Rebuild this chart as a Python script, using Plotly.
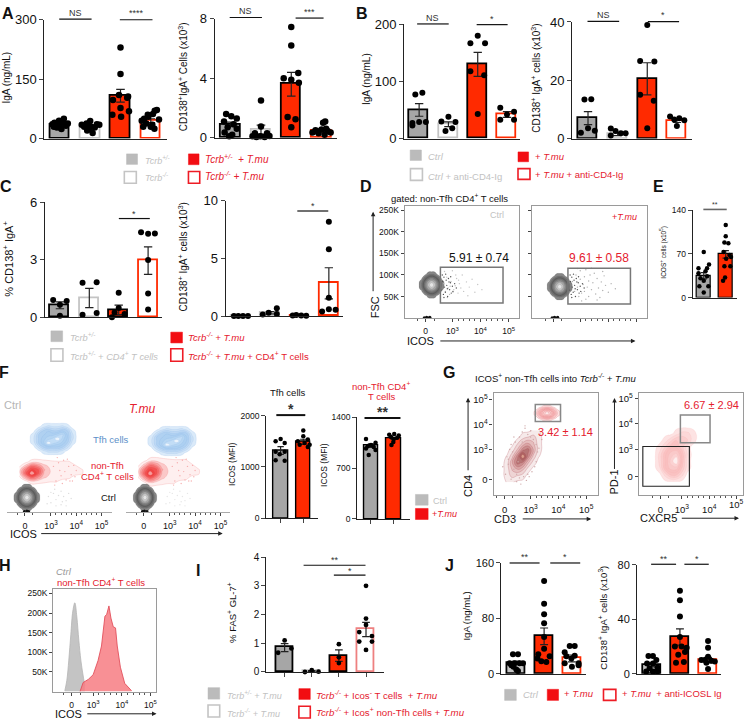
import plotly.graph_objects as go

W, H = 744, 727
FONT = "Liberation Sans"
GRAY = "#a6a6a6"
LGRAY = "#c4c4c4"
RED = "#ff2a00"
TRED = "#e5202e"
BLACK = "#000000"

# bar values, errors, dots (dots: offset from the bar centre, in bar spacings)
a1_vals = [35, 30, 108, 45]
a1_errs = [4, 4, 16, 5]
a1_dx = [[-.25, -.18, -.1, -.03, .05, .13, .2, .26, -.2, -.05, .1, .03],
         [-.28, -.2, -.12, -.05, 0, .08, .15, .22, .3, -.1, .03],
         [0, 0, -.05, .25, -.25, .22, 0, .28, -.27, .02],
         [-.3, -.22, -.15, -.08, 0, .07, .13, .2, .27, -.25, .12, .05, -.1]]
a1_dy = [[36, 40, 28, 45, 24, 50, 32, 38, 30, 35, 42, 27],
         [35, 30, 38, 25, 44, 14, 28, 36, 35, 20, 30],
         [230, 163, 110, 106, 97, 103, 77, 69, 60, 55],
         [45, 50, 38, 55, 30, 62, 70, 72, 48, 30, 25, 35, 60]]
a2_vals = [0.9, 0.55, 3.6, 0.5]
a2_errs = [.15, .3, .8, .1]
a2_dx = [[-.15, .02, .2, -.22, .1, -.1, .2, -.2, .05, -.05],
         [0, 0, -.28, -.15, -.02, .12, .28, -.2, .2],
         [0, 0, .23, -.25, 0, .25, -.12, .14, 0],
         [-.3, -.2, -.1, 0, .1, .2, .3, .05, .12, -.12, .15]]
a2_dy = [[1.6, 1.45, 1.3, 1.1, .9, .7, .6, .35, .2, .1],
         [2.5, .75, .1, .05, .1, .05, .12, .3, .3],
         [7.45, 6.2, 4.35, 4.0, 3.9, 3.7, 1.4, 1.25, .7],
         [.35, .5, .3, .55, .2, .45, .35, 1.0, 1.1, .4, .6]]
b1_vals = [50, 25, 130, 42]
b1_errs = [11, 4, 21, 5]
b1_dx = [[-.13, .11, -.23, 0, .23, -.23], [-.24, 0, .24, -.1, .13],
         [0, -.25, .25, -.25, .22, 0], [-.23, .24, 0, -.23, .24]]
b1_dy = [[77, 80, 23, 29, 29, 27], [30, 38, 29, 13, 18],
         [180, 167, 167, 118, 111, 43], [54, 47, 42, 33, 33]]
b2_vals = [7, 1.5, 20.5, 6]
b2_errs = [2.2, .5, 5.5, .5]
b2_dx = [[-.12, .11, -.24, 0, .23], [-.23, -.07, -.23, .11, .27],
         [0, -.24, .24, -.24, .22, 0], [-.23, 0, -.09, .08, .25]]
b2_dy = [[13.4, 13.5, 2, 3.5, 2.7], [3.4, 2.6, 1, 1.8, 1.8],
         [39, 26.6, 26.4, 15, 13, 3.5], [7.6, 4.3, 6.5, 7, 6.3]]
c1_vals = [.62, 1.0, .38, 2.95]
c1_errs = [.18, .5, .25, .72]
c1_dx = [[-.23, .23, 0, 0], [-.23, .25, -.23, .25],
         [0, 0, -.23, .2, -.14], [-.24, 0, .23, 0, 0, 0]]
c1_dy = [[.9, .85, .65, .08], [1.8, 1.82, .13, .22],
         [1.28, .48, 0, .17, .25], [4.43, 4.35, 4.36, 2.98, 1.23, .4]]
c2_vals = [.03, .3, .05, 2.85]
c2_errs = [0, .1, .02, 1.35]
c2_dx = [[-.23, -.08, .08, .25], [-.25, -.05, .23, .23],
         [-.23, -.11, .06, .23], [0, 0, 0, -.23, 0, .23]]
c2_dy = [[.02, .02, .02, .02], [.14, .3, .68, .2],
         [.05, .1, .05, .04], [8.2, 5.8, 1.6, .4, .6, .55]]
e_vals = [35, 69]
e_errs = [5, 6]
e_dx = [[0, .24, -.24, .15, -.24, .08, -.2, .21, 0, -.15, .15, 0],
        [0, 0, -.06, .12, -.1, .17, .02, -.06, .24, .21, -.03, -.12]]
e_dy = [[73, 53, 47, 47, 39, 42, 18, 18, 8, 31, 34, 27],
        [116, 98, 88, 87, 73, 68, 62, 50, 65, 50, 32, 27]]
f1_vals = [1320, 1490]
f1_errs = [75, 50]
f1_dx = [[-.22, 0, .18, -.22, .18, -.04, -.22, .18],
         [0, 0, -.24, .2, -.16, .06, .28, .2]]
f1_dy = [[1500, 1545, 1465, 1295, 1295, 1250, 1130, 1120],
         [1713, 1600, 1500, 1535, 1435, 1465, 1435, 1390]]
f2_vals = [1010, 1110]
f2_errs = [25, 15]
f2_dx = [[-.22, .2, 0, -.15, .12, -.22, .2, -.1],
         [.02, -.2, .22, -.12, .15, 0, -.02, -.1]]
f2_dy = [[1100, 1050, 1020, 1000, 990, 970, 950, 880],
         [1170, 1160, 1150, 1130, 1120, 1100, 1060, 1020]]
i_vals = [.85, .03, .57, 1.48]
i_errs = [.14, .02, .2, .25]
i_dx = [[0, .25, -.24], [-.25, 0, .25], [0, 0, 0],
        [0, 0, 0, -.25, .22, -.25, 0, .22]]
i_dy = [[1.1, .82, .67], [0, .06, .01], [.97, .51, .31],
        [3.0, 1.86, 1.64, 1.39, 1.25, 1.06, .77, 1.06]]
j1_vals = [16, 54, 22]
j1_errs = [2, 12, 5]
j1_dx = [[-.12, .06, -.24, -.06, .12, .24, -.18, 0, .06, -.1],
         [0, 0, 0, 0, 0, 0, -.21, -.24, .2, -.1, .08],
         [-.08, .1, -.26, .1, -.2, -.02, -.26, .24, 0, .24]]
j1_dy = [[28, 28, 15, 15, 15, 15, 12, 6, 4, 10],
         [134, 101, 86, 73, 53, 36, 28, 22, 25, 18, 17],
         [40, 40, 31, 26, 25, 22, 15, 15, 10, 12]]
j2_vals = [6.5, 27, 10]
j2_errs = [1.5, 6, 2]
j2_dx = [[-.12, .04, .16, -.17, .04, .2, -.08, .04, -.2, .2],
         [0, 0, 0, 0, -.18, .24, .06, -.06, .18, -.14, .14],
         [0, 0, -.24, -.12, 0, .12, .24, -.06, 0]]
j2_dy = [[13, 13, 10, 7.5, 7.5, 4.5, 4, 1.5, 1.5, 1.5],
         [61, 54, 42, 27, 20, 19, 20, 14, 16, 8, 8.5],
         [24, 19, 10, 10, 12.5, 9.5, 9, 8, 3.5]]

# H histograms: ICOS in decades, counts in K
h_gray_x = [2.01, 2.08, 2.15, 2.22, 2.29, 2.36, 2.43, 2.50, 2.57, 2.64, 2.71]
h_gray_y = [2, 28, 80, 145, 205, 226, 190, 130, 80, 45, 15]
h_red_x = [2.54, 2.65, 2.83, 3.0, 3.17, 3.29, 3.41, 3.47, 3.55, 3.62, 3.70, 3.78, 3.84, 3.95, 4.10, 4.34]
h_red_y = [0, 23, 31, 43, 79, 116, 192, 196, 218, 187, 165, 162, 116, 62, 21, 2]

# flow plots: hand-read density grids and scattered events
ring_z = [[0, 0, 0, 0, 0, 0, 0, 0, 0],
          [0, 0, 0, 1, 1.5, 1, 0, 0, 0],
          [0, 0, 2, 4, 5, 4, 2, 0, 0],
          [0, 1, 4, 7, 8, 7, 4, 1, 0],
          [0, 1.5, 5, 8, 10, 8, 5, 1.5, 0],
          [0, 1, 4, 7, 8, 7, 4, 1, 0],
          [0, 0, 2, 4, 5, 4, 2, 0, 0],
          [0, 0, 0, 1, 1.5, 1, 0, 0, 0],
          [0, 0, 0, 0, 0, 0, 0, 0, 0]]
blue_z = [[0, 0, 0, 0, 0, 0, 0, 0, 0, 0, 0],
          [0, 0, 0, 1, 2, 1.5, 1.5, 2, 1, 0, 0],
          [0, 0, 2, 4, 5, 4, 4, 5, 4, 1, 0],
          [0, 1, 4, 5, 6, 6, 7, 8, 5, 2, 0],
          [0, 1.5, 4, 6, 7, 8, 10, 7, 5, 2, 0],
          [0, 1, 4, 6, 10, 8, 7, 6, 4, 1, 0],
          [0, 0, 2, 4, 5, 5, 5, 4, 2, 0, 0],
          [0, 0, 0, 1, 2, 2, 2, 1, 0, 0, 0],
          [0, 0, 0, 0, 0, 0, 0, 0, 0, 0, 0]]
tail_z = [[0, 0, 0, 0, 0, 0, 0, 0, 0, 0, 0, 0],
          [0, 0, 1, 1.2, .8, .6, .5, .5, .5, 0, 0, 0],
          [0, 2, 5, 4, 2, 1.2, 1, .9, .7, .5, 0, 0],
          [1, 5, 8, 7, 3, 1.5, 1.2, 1, 1, .7, .5, 0],
          [1, 6, 10, 7, 2.5, 1.5, 1, 1, .9, .7, .5, 0],
          [0, 3, 6, 4, 1.8, 1.2, 1, .8, .6, 0, 0, 0],
          [0, 0, 1.5, 1, .7, .5, .5, 0, 0, 0, 0, 0],
          [0, 0, 0, 0, 0, 0, 0, 0, 0, 0, 0, 0]]
tilt_z = [[0, 0, 0, 0, 0, 0, .5, .5, 0],
          [0, 0, 0, 0, 1, 1.5, 2, 1, 0],
          [0, 0, 0, 1.5, 3, 4, 3, 1, 0],
          [0, 0, 1, 3, 6, 7, 4, 1, 0],
          [0, .5, 2.5, 6, 10, 6, 2.5, .5, 0],
          [0, 1, 4, 7, 6, 3, 1, 0, 0],
          [0, 1, 3, 4, 3, 1, 0, 0, 0],
          [0, 1, 2, 1.5, 1, 0, 0, 0, 0],
          [0, .5, .5, 0, 0, 0, 0, 0, 0]]
lobe_z = [[0, 0, 0, 0, 0, 0, 0, 0, 0],
          [0, 0, 0, 0, 1, 2, 2, 1, 0],
          [0, 0, 1, 2.5, 4, 4, 3, 1, 0],
          [0, 1, 3, 5, 5, 3.5, 1, 0, 0],
          [0, 2, 5, 7, 8, 5, 1.5, 0, 0],
          [0, 2, 5, 8, 10, 5, 1, 0, 0],
          [0, 1.5, 5, 7, 7, 4, 1, 0, 0],
          [0, 0, 2, 4, 4, 2, 0, 0, 0],
          [0, 0, 0, 0, 0, 0, 0, 0, 0]]
d1_ev_x = [2.7, 2.75, 2.8, 2.85, 2.9, 2.95, 3.0, 3.05, 3.1, 3.15, 3.2, 3.25, 3.3, 3.35, 3.4, 3.5, 3.55, 3.6, 3.7, 3.8, 3.9, 4.05, 2.72, 2.82, 2.92, 3.02, 3.12, 3.22]
d1_ev_y = [80, 62, 95, 70, 55, 85, 110, 66, 75, 92, 58, 80, 70, 100, 62, 84, 52, 72, 90, 60, 78, 66, 108, 48, 74, 60, 100, 88]
d2_ev_x = [2.72, 2.8, 2.85, 2.9, 2.95, 3.0, 3.0, 3.05, 3.1, 3.15, 3.15, 3.2, 3.25, 3.3, 3.3, 3.35, 3.4, 3.45, 3.5, 3.55, 3.6, 3.65, 3.7, 3.75, 3.8, 3.85, 3.9, 4.0, 4.1, 4.25, 2.9, 3.05, 3.2, 3.4, 3.6, 3.8]
d2_ev_y = [85, 62, 100, 72, 50, 90, 110, 58, 78, 96, 62, 112, 72, 50, 86, 100, 66, 82, 104, 56, 92, 70, 48, 84, 64, 98, 76, 60, 80, 68, 115, 40, 44, 116, 42, 108]
dense_x = [2.62, 2.65, 2.68, 2.7, 2.72, 2.75, 2.78, 2.8, 2.83, 2.86, 2.9, 2.93, 2.96, 3.0, 2.64, 2.7, 2.76, 2.82, 2.88, 2.94, 3.02, 3.08, 3.14]
dense_y = [65, 85, 55, 95, 72, 60, 88, 76, 50, 92, 66, 82, 58, 74, 100, 48, 102, 68, 84, 96, 62, 80, 70]
g1_ev_x = [2.0, 2.1, 2.15, 2.2, 2.25, 2.3, 2.35, 2.4, 2.45, 2.5, 2.55, 2.6, 2.65, 2.7, 2.75, 2.8, 2.85, 2.9, 2.95, 3.0, 3.05, 3.1, 3.15, 3.2, 3.25, 3.3, 2.3, 2.5, 2.7, 2.9, 3.1, 2.2, 2.6, 3.0, 2.4, 2.8, 3.2, 3.4]
g1_ev_y = [2.3, 2.0, 2.7, 2.4, 3.0, 1.8, 2.9, 2.2, 3.3, 1.7, 2.5, 3.5, 1.6, 3.7, 1.9, 3.85, 1.75, 3.6, 1.9, 3.75, 2.1, 3.4, 2.3, 3.2, 2.9, 3.05, 3.2, 2.0, 3.3, 2.0, 3.0, 2.6, 1.85, 3.5, 3.5, 3.95, 2.5, 3.4]
f_red_x = [3.1, 3.2, 3.3, 3.4, 3.5, 3.6, 3.7, 3.8, 3.9, 4.0, 3.25, 3.45, 3.65, 3.85, 3.15, 3.35, 3.55, 3.75, 3.95]
f_red_y = [88, 60, 95, 70, 100, 62, 88, 72, 90, 80, 105, 55, 102, 60, 52, 80, 78, 60, 68]
f_gray_x = [2.9, 3.0, 3.1, 3.2, 3.3, 3.4, 3.5, 3.6, 3.7, 3.8, 3.0, 3.2, 3.4, 3.6, 2.85, 3.15, 3.45]
f_gray_y = [30, 18, 36, 24, 32, 14, 30, 22, 36, 26, 38, 12, 40, 12, 16, 44, 20]

layout = dict(width=W, height=H, margin=dict(l=0, r=0, t=0, b=0), showlegend=False,
              plot_bgcolor="rgba(0,0,0,0)", paper_bgcolor="white", bargap=0,
              font=dict(family=FONT, color="#111111"))
fig = go.Figure()
shapes, notes = [], []
axis_no = [0]


def px(x):
    return x / W


def py(y):
    return 1 - y / H


def new_axes():
    axis_no[0] += 1
    n = "" if axis_no[0] == 1 else str(axis_no[0])
    return n


def text(x, y, s, size=10, color="#111111", anchor="left", angle=0):
    notes.append(dict(x=px(x), y=py(y), xref="paper", yref="paper", text=s, showarrow=False,
                      xanchor=anchor, yanchor="middle", textangle=angle,
                      font=dict(size=size, color=color, family=FONT)))


def arrow(x0, y0, x1, y1):
    notes.append(dict(x=px(x1), y=py(y1), xref="paper", yref="paper", ax=x0 - x1, ay=y0 - y1,
                      text="", showarrow=True, arrowhead=2, arrowsize=.9, arrowwidth=1, arrowcolor="#222222"))


def line(x0, y0, x1, y1, color="#111111", width=1.2):
    shapes.append(dict(type="line", xref="paper", yref="paper", x0=px(x0), x1=px(x1), y0=py(y0), y1=py(y1),
                       line=dict(color=color, width=width)))


def rect(x0, y0, x1, y1, color, fill="rgba(0,0,0,0)", width=1.5):
    shapes.append(dict(type="rect", xref="paper", yref="paper", x0=px(x0), x1=px(x1), y0=py(y0), y1=py(y1),
                       line=dict(color=color, width=width), fillcolor=fill))


def bracket(x0, x1, y, label, ty, size=9, width=1.2, color="#111111"):
    line(x0, y, x1, y, color, width)
    text((x0 + x1) / 2, ty, label, size, "#333333", "center")


def bar_panel(x0, x1, ytop, ybot, ymax, yticks, centers, bar_w, vals, errs, dx, dy, fills, edges,
              tick_size=13, dot=6.5, ticks=False, lw=1.8, ylabels=None):
    n = new_axes()
    step = (centers[-1] - centers[0]) / (len(centers) - 1)
    lo = (x0 - centers[0]) / step
    hi = (x1 - centers[0]) / step
    xs = list(range(len(vals)))
    fig.add_trace(go.Bar(x=xs, y=vals, width=bar_w / step, xaxis="x" + n, yaxis="y" + n,
                         marker=dict(color=fills, line=dict(color=edges, width=lw)),
                         error_y=dict(type="data", array=errs, color="#222222", thickness=1.2, width=bar_w * .22),
                         cliponaxis=False, hoverinfo="skip"))
    px_x, px_y = [], []
    for i in xs:
        px_x += [i + d for d in dx[i]]
        px_y += dy[i]
    fig.add_trace(go.Scatter(x=px_x, y=px_y, mode="markers", xaxis="x" + n, yaxis="y" + n,
                             marker=dict(color="black", size=dot), cliponaxis=False, hoverinfo="skip"))
    layout["xaxis" + n] = dict(domain=[px(x0), px(x1)], range=[lo, hi], anchor="y" + n, showgrid=False, zeroline=False,
                               showline=True, linecolor="#222222", linewidth=1.2, tickvals=xs if ticks else [],
                               ticks="outside" if ticks else "", ticklen=4, showticklabels=False)
    layout["yaxis" + n] = dict(domain=[py(ybot), py(ytop)], range=[0, ymax], anchor="x" + n, showgrid=False, zeroline=False,
                               showline=True, linecolor="#222222", linewidth=1.2, tickvals=yticks,
                               ticktext=ylabels, ticks="outside", ticklen=4, tickwidth=1.2,
                               tickfont=dict(size=tick_size, color="#111111", family=FONT))


def minor_decades(zero):
    out = [zero - .3, zero + .3]
    for d in (3, 4):
        out += [d + k / 5 for k in range(1, 5)]
    return out


def flow_panel(box, p3, p5, x0_px, ylo, yhi, ytick_vals, ytick_text, xlabels=True, ylabels=True, color="#9a9a9a",
               size=8.5):
    x0, x1, ytop, ybot = box
    n = new_axes()
    dec = (p5 - p3) / 2
    zero = 3 + (x0_px - p3) / dec
    layout["xaxis" + n] = dict(domain=[px(x0), px(x1)], range=[3 + (x0 - p3) / dec, 3 + (x1 - p3) / dec], anchor="y" + n,
                               showgrid=False, zeroline=False, showline=True, mirror=True, linecolor=color, linewidth=1.3,
                               tickvals=[zero, 3, 4, 5], ticktext=["0", "10<sup>3</sup>", "10<sup>4</sup>", "10<sup>5</sup>"],
                               ticks="outside", ticklen=3, showticklabels=xlabels, ticklabelstandoff=2,
                               minor=dict(tickvals=minor_decades(zero), ticks="outside", ticklen=2, tickcolor="#555555"),
                               tickfont=dict(size=size, family=FONT, color="#111111"))
    layout["yaxis" + n] = dict(domain=[py(ybot), py(ytop)], range=[ylo, yhi], anchor="x" + n, showgrid=False, zeroline=False,
                               showline=True, mirror=True, linecolor=color, linewidth=1.3, tickvals=ytick_vals, ticktext=ytick_text,
                               ticks="outside", ticklen=3, showticklabels=ylabels,
                               tickfont=dict(size=size, family=FONT, color="#111111"))
    return n


def blob(n, cx, cy, rx, ry, z, stops, lines="rgba(90,90,90,.25)"):
    ny, nx = len(z), len(z[0])
    xs = [cx + rx * (2 * i / (nx - 1) - 1) for i in range(nx)]
    ys = [cy + ry * (2 * i / (ny - 1) - 1) for i in range(ny)]
    fig.add_trace(go.Contour(x=xs, y=ys, z=z[::-1], xaxis="x" + n, yaxis="y" + n, showscale=False, hoverinfo="skip",
                             zmin=0, zmax=10, autocontour=False, contours=dict(start=.4, end=10, size=1.2, coloring="fill"),
                             colorscale=stops, line=dict(width=.5, color=lines, smoothing=1.3)))


def events(n, xs, ys, color, size=1.4):
    fig.add_trace(go.Scatter(x=xs, y=ys, mode="markers", xaxis="x" + n, yaxis="y" + n, hoverinfo="skip",
                             marker=dict(color=color, size=size)))


GRAY_CS = [[0, "rgba(255,255,255,0)"], [.04, "#8a8a8a"], [.3, "#5c5c5c"], [.6, "#8f8f8f"], [.85, "#cfcfcf"], [1, "#f4f4f4"]]
BLUE_CS = [[0, "rgba(255,255,255,0)"], [.04, "#dcebf9"], [.5, "#a9cdf0"], [.8, "#bedbf5"], [1, "#ffffff"]]
RED_CS = [[0, "rgba(255,255,255,0)"], [.05, "#fef3f3"], [.15, "#fcd2d2"], [.4, "#f78f8f"], [.8, "#ee3a3a"], [1, "#fbc8c8"]]
TILT_CS = [[0, "rgba(255,255,255,0)"], [.05, "#f7ecec"], [.4, "#dfaeae"], [.8, "#a85f5f"], [1, "#f1b9a0"]]
PALE_CS = [[0, "rgba(255,255,255,0)"], [.05, "#fde4e4"], [.5, "#f9bcbc"], [.85, "#fbd5d5"], [1, "#ffffff"]]

ed4 = [BLACK, LGRAY, BLACK, RED]
fill4 = [GRAY, "white", RED, "white"]

# A
bar_panel(44.5, 167, 13, 134.3, 300, [0, 150, 300], [60, 90, 120, 151], 19.5, a1_vals, a1_errs, a1_dx, a1_dy, fill4, ed4)
bar_panel(215, 337, 12, 133.5, 8, [0, 4, 8], [231, 260.7, 291, 322], 19.5, a2_vals, a2_errs, a2_dx, a2_dy, fill4, ed4)
# B
bar_panel(404.7, 521, 17.7, 134.3, 200, [0, 100, 200], [419.7, 449, 478.3, 507.7], 19, b1_vals, b1_errs, b1_dx, b1_dy, fill4, ed4, dot=6)
bar_panel(573, 692.7, 15.3, 134.3, 40, [0, 20, 40], [588.8, 618, 648.3, 677.8], 19, b2_vals, b2_errs, b2_dx, b2_dy, fill4, ed4, dot=6)
# C
bar_panel(45, 162.7, 199.3, 316.7, 6, [0, 3, 6], [60, 89.3, 119, 148.3], 19, c1_vals, c1_errs, c1_dx, c1_dy, fill4, ed4, dot=6)
bar_panel(226, 343, 198, 315.7, 10, [0, 5, 10], [241, 270.7, 300, 329.3], 19, c2_vals, c2_errs, c2_dx, c2_dy, ["white", "white", "white", "white"], [LGRAY, LGRAY, RED, RED], dot=6)
# E
bar_panel(693.7, 738, 207.3, 296.7, 140, [0, 70, 140], [704.7, 726.7], 14.5, e_vals, e_errs, e_dx, e_dy, [GRAY, RED], [BLACK, BLACK], tick_size=8.5, dot=4.5, lw=1.2)
# F bars
bar_panel(266.7, 318, 417.3, 522, 2000, [0, 1000, 2000], [281, 303.7], 14.5, f1_vals, f1_errs, f1_dx, f1_dy, [GRAY, RED], [BLACK, BLACK], tick_size=8.5, dot=4.5, ticks=True, lw=1.4)
bar_panel(357.7, 411, 419, 522.7, 1400, [0, 700, 1400], [371.5, 394.3], 14.5, f2_vals, f2_errs, f2_dx, f2_dy, [GRAY, RED], [BLACK, BLACK], tick_size=8.5, dot=4.5, ticks=True, lw=1.4)
# I
bar_panel(266.7, 384.7, 561.7, 679, 4, [0, 1, 2, 3, 4], [285, 312.3, 339.3, 366.5], 17.5, i_vals, i_errs, i_dx, i_dy, [GRAY, "white", RED, "white"], [BLACK, LGRAY, BLACK, "#ee8080"], tick_size=10, dot=4.8, ticks=True)
# J
bar_panel(502, 587, 567.7, 680.7, 160, [0, 80, 160], [517, 544.7, 572.7], 18, j1_vals, j1_errs, j1_dx, j1_dy, [LGRAY, RED, "white"], [BLACK, BLACK, RED], tick_size=11, dot=6)
bar_panel(638, 722, 569.7, 680.7, 80, [0, 40, 80], [652.7, 680.7, 709], 18, j2_vals, j2_errs, j2_dx, j2_dy, [LGRAY, RED, "white"], [BLACK, BLACK, RED], tick_size=11, dot=6)

# D flow
fsc_vals = [50, 100, 150, 200, 250]
fsc_text = ["50K", "100K", "150K", "200K", "250K"]
n = flow_panel((405.3, 519.7, 202.7, 317.7), 453, 509.3, 426.3, 0, 261, fsc_vals, fsc_text)
events(n, d1_ev_x, d1_ev_y, "#c4c4c4")
events(n, dense_x, dense_y, "#555555")
blob(n, 2.26, 77, .48, 33, ring_z, GRAY_CS)
events(n, [2.0, 2.08, 2.13, 2.2], [1, 2, 1, 2], "#111111", 3)
n = flow_panel((533, 647.7, 202.7, 317.7), 581, 637.3, 554.3, 0, 261, fsc_vals, fsc_text, False, False)
events(n, d2_ev_x, d2_ev_y, "#b0b0b0")
events(n, dense_x, dense_y, "#555555")
blob(n, 2.27, 73, .48, 33, ring_z, GRAY_CS)
events(n, [2.0, 2.08, 2.13, 2.2], [1, 2, 1, 2], "#111111", 3)

# F flow
n = flow_panel((7, 112, 378, 515.7), 51, 101.7, 25, 0, 260, [], [], color="rgba(0,0,0,0)", size=9)
layout["yaxis" + n]["visible"] = False
layout["xaxis" + n].update(showline=True, mirror=False, linecolor="#aaaaaa", linewidth=.8)
events(n, f_red_x, f_red_y, "#f6b0b0")
events(n, f_gray_x, f_gray_y, "#dddddd")
blob(n, 3.08, 141, .95, 32, blue_z, BLUE_CS, "rgba(120,170,230,.3)")
blob(n, 3.1, 78, 1.35, 26, tail_z, RED_CS, "rgba(240,90,90,.35)")
blob(n, 2.05, 28, .55, 28, ring_z, GRAY_CS)
events(n, [1.95, 2.05, 2.12], [1, 2, 1], "#111111", 3)
n = flow_panel((126, 230, 378, 515.7), 170, 220.7, 144, 0, 260, [], [], color="rgba(0,0,0,0)", size=9)
layout["yaxis" + n]["visible"] = False
layout["xaxis" + n].update(showline=True, mirror=False, linecolor="#aaaaaa", linewidth=.8)
events(n, f_red_x, f_red_y, "#f6b0b0")
events(n, f_gray_x, f_gray_y, "#e6e6e6")
blob(n, 3.08, 137, 1.0, 30, blue_z, BLUE_CS, "rgba(120,170,230,.3)")
blob(n, 3.05, 78, 1.3, 30, tail_z, RED_CS, "rgba(240,90,90,.35)")
blob(n, 2.02, 28, .5, 28, ring_z, GRAY_CS)
events(n, [1.92, 2.0, 2.1], [1, 2, 1], "#111111", 3)

# G flow
dec_text = ["0", "10<sup>3</sup>", "10<sup>4</sup>", "10<sup>5</sup>"]
n = flow_panel((494.3, 598.7, 394, 498.3), 531.3, 587, 505.3, 1.16, 5.28, [1.79, 3, 4, 5], dec_text, size=9.5)
events(n, g1_ev_x, g1_ev_y, "#cfa9a9")
blob(n, 2.72, 2.72, .75, 1.05, tilt_z, TILT_CS, "rgba(170,60,70,.45)")
blob(n, 3.59, 4.46, .5, .34, ring_z, PALE_CS, "rgba(220,90,100,.5)")
n = flow_panel((639.7, 744, 394, 498.3), 682.7, 737.7, 661.3, 1.19, 5.23, [1.93, 3, 4, 5], dec_text, size=9.5)
layout["xaxis" + n]["ticktext"] = ["0", "10<sup>3</sup>", "10<sup>4</sup>", ""]
text(737, 507, "10<sup>5</sup>", 9.5, anchor="center")
blob(n, 2.8, 2.8, .8, 1.1, lobe_z, PALE_CS, "rgba(245,170,170,.3)")

# H histogram
n = flow_panel((53.3, 156.7, 594.3, 699), 93.3, 150.7, 71.7, 0, 261, fsc_vals, fsc_text)
fig.add_trace(go.Scatter(x=h_gray_x, y=h_gray_y, fill="tozeroy", mode="lines", xaxis="x" + n, yaxis="y" + n, hoverinfo="skip",
                         line=dict(color="#b5b5b5", width=.8, shape="spline"), fillcolor="rgba(190,190,190,.9)"))
fig.add_trace(go.Scatter(x=h_red_x, y=h_red_y, fill="tozeroy", mode="lines", xaxis="x" + n, yaxis="y" + n, hoverinfo="skip",
                         line=dict(color="#e2505c", width=.9), fillcolor="rgba(247,125,130,.85)"))

# panel letters
for lx, ly, s in [(8, 7, "A"), (362, 7, "B"), (6, 183, "C"), (366, 183, "D"), (659, 183, "E"), (4, 373, "F"),
                  (450, 373, "G"), (5, 570, "H"), (198, 575, "I"), (450, 570, "J")]:
    text(lx, ly, "<b>%s</b>" % s, 16, "#111111", "center")

# significance
bracket(59.3, 91.7, 12.3, "NS", 6)
bracket(120, 152.7, 13, "****", 6)
bracket(230, 262.3, 10.7, "NS", 4.5)
bracket(296, 324, 11.3, "***", 5)
bracket(417.7, 449.3, 17.3, "NS", 11)
bracket(477.3, 508.3, 18, "*", 12)
bracket(588.3, 620, 14.7, "NS", 8)
bracket(648.7, 680, 15, "*", 8)
bracket(119, 150, 216, "*", 211)
bracket(297.7, 328.7, 208.3, "*", 203)
bracket(704.3, 727.7, 206.7, "**", 202, 7, 1.6, "#666666")
bracket(276.7, 305.7, 416.7, "<b>*</b>", 410, 14, 2)
bracket(365, 401, 419.7, "<b>**</b>", 414, 14, 2)
bracket(304, 366, 570, "**", 565)
bracket(334.3, 366, 580, "*", 576)
bracket(510.3, 540.3, 567.7, "**", 562)
bracket(551, 581, 567.7, "*", 562)
bracket(652, 677, 569, "**", 564)
bracket(685.3, 709.7, 569, "*", 564)

# y titles
cd138 = "CD138<sup>+</sup> IgA<sup>+</sup> cells (x10<sup>3</sup>)"
text(7, 72, "IgA (ng/mL)", 10, angle=-90, anchor="center")
text(183, 71, "CD138<sup>+</sup>IgA<sup>+</sup> Cells (x10<sup>3</sup>)", 10, angle=-90, anchor="center")
text(367, 74, "IgA (ng/mL)", 10, angle=-90, anchor="center")
text(537, 73, cd138, 10, angle=-90, anchor="center")
text(8, 257, "% CD138<sup>+</sup> IgA<sup>+</sup>", 11, angle=-90, anchor="center")
text(183, 255, cd138, 10, angle=-90, anchor="center")
text(664.7, 250, "ICOS<sup>+</sup> cells (x10<sup>5</sup>)", 6.5, angle=-90, anchor="center")
text(233, 467, "ICOS (MFI)", 8.5, angle=-90, anchor="center")
text(325, 468, "ICOS (MFI)", 8.5, angle=-90, anchor="center")
text(233, 618, "% FAS<sup>+</sup> GL-7<sup>+</sup>", 9.5, angle=-90, anchor="center")
text(467, 622, "IgA (ng/mL)", 9.5, angle=-90, anchor="center")
text(604.3, 623, cd138, 9.5, angle=-90, anchor="center")


# legends
def swatch(x0, y0, x1, y1, kind):
    if kind == "gray":
        rect(x0, y0, x1, y1, "#bbbbbb", "#bbbbbb", .5)
    elif kind == "white":
        rect(x0, y0, x1, y1, LGRAY, "white", 1.6)
    elif kind == "red":
        rect(x0, y0, x1, y1, "#f20d12", "#f20d12", .5)
    else:
        rect(x0, y0, x1, y1, "#ee1c25", "white", 1.6)


LG = "#c2c2c2"
swatch(126.7, 150, 137.7, 160.7, "gray")
swatch(124.5, 168, 136.5, 180, "white")
swatch(188.7, 150, 199.3, 161, "red")
swatch(188.7, 168, 200, 180, "outline")
text(143, 156, "<i>Tcrb<sup>+/-</sup></i>", 9, LG)
text(143, 174, "<i>Tcrb<sup>-/-</sup></i>", 9, LG)
text(203.7, 155, "<i>Tcrb<sup>+/-</sup>\u00a0\u00a0+ T.mu</i>", 10, TRED)
text(203.7, 173, "<i>Tcrb<sup>-/-</sup>\u00a0+ T.mu</i>", 10, TRED)

swatch(410.7, 146, 422, 156.7, "gray")
swatch(411, 165, 423, 177, "white")
swatch(518.7, 148, 529.3, 158, "red")
swatch(518.7, 165, 530.7, 176, "outline")
text(427, 153, "<i>Ctrl</i>", 9.5, LG)
text(427, 172.7, "<i>Ctrl</i> + anti-CD4-Ig", 9.5, LG)
text(533.7, 153, "+ <i>T.mu</i>", 9.5, TRED)
text(533.7, 171, "+ <i>T.mu</i> + anti-CD4-Ig", 9.5, TRED)

swatch(51, 330.7, 62.7, 341.7, "gray")
swatch(51, 349, 63, 361.7, "white")
swatch(171, 332, 182.7, 343, "red")
swatch(171, 349, 183, 361.7, "outline")
text(68, 337, "<i>Tcrb<sup>+/-</sup></i>", 9.3, LG)
text(68, 356, "<i>Tcrb<sup>+/-</sup> + CD4<sup>+</sup> T cells</i>", 9.3, LG)
text(186.7, 337, "<i>Tcrb<sup>-/-</sup> + T.mu</i>", 9.6, TRED)
text(186.7, 356, "<i>Tcrb<sup>-/-</sup> + T.mu</i> + CD4<sup>+</sup> T cells", 9.6, TRED)

swatch(416, 497.7, 428.7, 508.7, "gray")
swatch(416, 512, 428.7, 523.3, "red")
text(432, 504, "Ctrl", 9, LG)
text(431, 518, "+<i>T.mu</i>", 9, TRED)

swatch(208.3, 695, 220, 706.7, "gray")
swatch(208.3, 712.7, 220, 725, "white")
swatch(299.3, 696, 310.7, 707, "red")
swatch(299.3, 714, 310.7, 726, "outline")
text(225, 702, "<i>Tcrb<sup>+/-</sup> + T.mu</i>", 9, LG)
text(225, 721, "<i>Tcrb<sup>-/-</sup> + T.mu</i>", 9, LG)
text(314, 703, "<i>Tcrb<sup>-/-</sup></i> + Icos<sup>-</sup> T cells\u00a0\u00a0+ <i>T.mu</i>", 9.7, TRED)
text(314, 720, "<i>Tcrb<sup>-/-</sup></i> + Icos<sup>+</sup> non-Tfh cells + <i>T.mu</i>", 9.7, TRED)

swatch(505.3, 696.7, 517, 708, "gray")
swatch(548, 696.7, 559.3, 708, "red")
swatch(604.3, 696.7, 616.7, 708, "outline")
text(522, 702, "<i>Ctrl</i>", 9.5, LG)
text(562.7, 701, "+ <i>T.mu</i>", 9.5, TRED)
text(621.3, 701, "+ <i>T.mu</i>\u00a0\u00a0+ anti-ICOSL Ig", 9.5, TRED)

# D text and gates
text(389.3, 195, "gated: non-Tfh CD4<sup>+</sup> T cells", 9.5)
text(498, 212.7, "Ctrl", 9, LG, "center")
text(625, 214.7, "+<i>T.mu</i>", 9, TRED, "center")
text(479.7, 256, "5.91 ± 0.74", 12, anchor="center")
text(599.7, 256.6, "9.61 ± 0.58", 12, TRED, "center")
rect(441, 265.7, 503.7, 302.3, "#777777")
rect(568.7, 266.7, 631.3, 303.3, "#777777")
text(406, 341, "ICOS", 11)
arrow(439.7, 341, 636.3, 341)
text(375, 306, "FSC", 11, angle=-90, anchor="center")
arrow(373.6, 290, 373.6, 209)

# F text
text(12.7, 406.7, "Ctrl", 11, "#b5b5b5", "center")
text(143, 410, "<i>T.mu</i>", 12, TRED, "center")
text(111, 441.3, "Tfh cells", 9.5, "#5b8fc9", "center")
text(107.3, 467.7, "non-Tfh", 9.5, TRED, "center")
text(107.3, 479, "CD4<sup>+</sup> T cells", 9.5, TRED, "center")
text(109, 500.7, "Ctrl", 9.5, "#111111", "center")
text(288, 394, "Tfh cells", 9.5, anchor="center")
text(381.5, 386.7, "non-Tfh CD4<sup>+</sup>", 9.5, TRED, "center")
text(383, 398, "T cells", 9.5, TRED, "center")
text(8, 537.7, "ICOS", 11)
arrow(40, 537.7, 223, 537.7)

# G text and gates
text(473.7, 379.3, "ICOS<sup>+</sup> non-Tfh cells into <i>Tcrb<sup>-/-</sup> + T.mu</i>", 9.5)
text(566.3, 434.3, "3.42 ± 1.14", 11, TRED, "center")
text(712, 406.7, "6.67 ± 2.94", 11, TRED, "center")
rect(536, 406, 561.3, 423.3, "#888888")
rect(681.3, 416.7, 711, 445, "#888888")
rect(643.7, 448.7, 690.3, 489.3, "#222222", width=1.1)
text(468.7, 489, "CD4", 11, angle=-90, anchor="center")
arrow(468.7, 473, 468.7, 399)
text(492.7, 522.7, "CD3", 11)
arrow(522, 522.7, 592, 522.7)
text(615.3, 485, "PD-1", 11, angle=-90, anchor="center")
arrow(615.3, 471.7, 615.3, 399.3)
text(638.7, 522, "CXCR5", 11)
arrow(681.3, 522, 740, 522)

# H text
text(54, 576.7, "<i>Ctrl</i>", 9.5, "#999999")
text(55.3, 587.3, "non-Tfh CD4<sup>+</sup> T cells", 9.5, TRED)
text(52.7, 721.7, "ICOS", 11)
arrow(86, 721.7, 156.7, 721.7)

layout["shapes"] = shapes
layout["annotations"] = notes
fig.update_layout(**layout)
fig.write_html("out.html", config={"displayModeBar": False}, post_script="document.body.style.margin='0';")
